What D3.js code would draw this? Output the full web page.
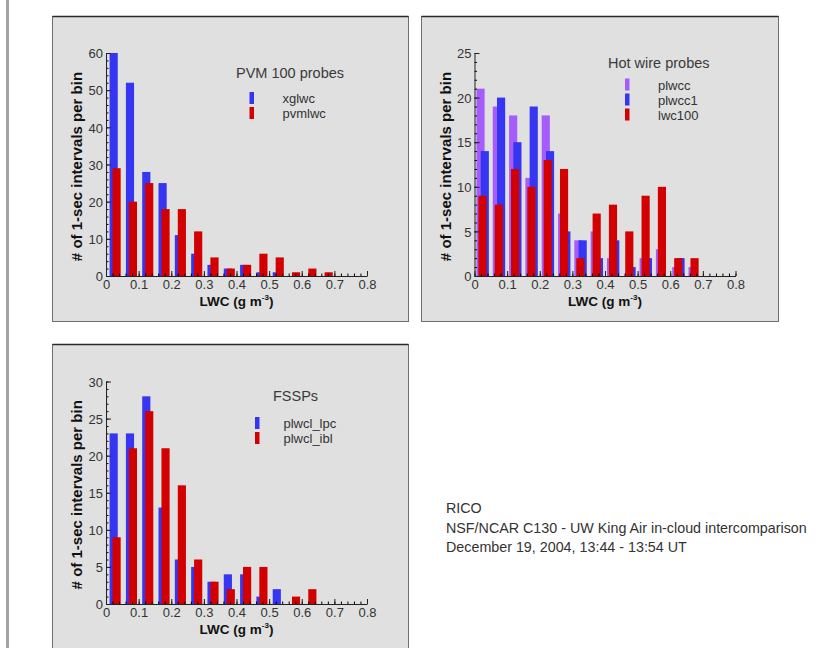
<!DOCTYPE html>
<html>
<head>
<meta charset="utf-8">
<script src="https://cdn.jsdelivr.net/npm/d3@7"></script>
<style>
  body { margin: 0; background: #fff; }
  svg { display: block; font-family: "Liberation Sans", Arial, sans-serif; }
</style>
</head>
<body>
<div id="chart"></div>
<script>
/* LWC histograms, RICO intercomparison */

// bin starts (g m-3), bin width 0.05
const binStart = [0, 0.05, 0.1, 0.15, 0.2, 0.25, 0.3, 0.35, 0.4, 0.45, 0.5, 0.55, 0.6, 0.65];

// PVM 100 probes
const xglwc  = [60, 52, 28, 25, 11, 6, 3, 2, 3, 1, 1, 0, 0, 0];
const pvmlwc = [29, 20, 25, 18, 18, 12, 5, 2, 3, 6, 5, 1, 2, 1];

// Hot wire probes
const plwcc  = [21, 19, 18, 11, 18, 7, 4, 5, 2, 0, 2, 3, 1, 1];
const plwcc1 = [14, 20, 15, 19, 14, 5, 4, 2, 4, 1, 2, 0, 2, 0];
const lwc100 = [9, 8, 12, 10, 13, 12, 2, 7, 8, 5, 9, 10, 2, 2];

// FSSPs
const plwcl_lpc = [23, 23, 28, 13, 6, 5, 3, 4, 4, 1, 2, 0, 0, 0];
const plwcl_ibl = [9, 21, 26, 21, 16, 6, 3, 2, 5, 5, 0, 1, 2, 0];

const noteLines = [
    "RICO",
    "NSF/NCAR C130 - UW King Air in-cloud intercomparison",
    "December 19, 2004, 13:44 - 13:54 UT"
];

const width = 821, height = 648;
const blue = "#3535f2", red = "#d20000", purple = "#a65cfa";
const barW = 0.025;

const panels = [
    {
        box: [52.5, 16.5, 356, 305],
        plot: { left: 106, right: 367, top: 53, bottom: 276 },
        yMax: 60, yStep: 10, yMinor: 2,
        title: "PVM 100 probes", titleX: 236, titleY: 78,
        legendX: 249.5, legendY: 92, labelDx: 33,
        series: [
            { name: "xglwc", values: xglwc, color: blue, offset: 0.011 },
            { name: "pvmlwc", values: pvmlwc, color: red, offset: 0.02 }
        ]
    },
    {
        box: [421.5, 16.5, 357, 305],
        plot: { left: 474.5, right: 735.5, top: 53, bottom: 276 },
        yMax: 25, yStep: 5, yMinor: 1,
        title: "Hot wire probes", titleX: 608, titleY: 68,
        legendX: 625, legendY: 78.5, labelDx: 33,
        series: [
            { name: "plwcc", values: plwcc, color: purple, offset: 0.006 },
            { name: "plwcc1", values: plwcc1, color: blue, offset: 0.019 },
            { name: "lwc100", values: lwc100, color: red, offset: 0.012 }
        ]
    },
    {
        box: [52.5, 344.5, 356, 320],
        plot: { left: 106, right: 367, top: 381.5, bottom: 604 },
        yMax: 30, yStep: 5, yMinor: 1,
        title: "FSSPs", titleX: 273, titleY: 401,
        legendX: 255, legendY: 417, labelDx: 28.5,
        series: [
            { name: "plwcl_lpc", values: plwcl_lpc, color: blue, offset: 0.011 },
            { name: "plwcl_ibl", values: plwcl_ibl, color: red, offset: 0.02 }
        ]
    }
];

let svg = d3.select("#chart")
    .append("svg")
    .attr("width", width)
    .attr("height", height)
    .attr("viewBox", [0, 0, width, height]);

/* page rule on the left */
svg.append("rect")
    .attr("x", 6).attr("y", 0)
    .attr("width", 3).attr("height", height)
    .attr("fill", "#a3a3a3");

for (let p of panels) {
    let g = svg.append("g");
    let [bx, by, bw, bh] = p.box;

    // panel frame
    g.append("rect")
        .attr("x", bx).attr("y", by)
        .attr("width", bw).attr("height", bh)
        .attr("fill", "#e0e0e0")
        .attr("stroke", "#6e6e6e");
    g.append("line")
        .attr("x1", bx).attr("x2", bx + bw)
        .attr("y1", by).attr("y2", by)
        .attr("stroke", "#2a2a2a").attr("stroke-width", 1.5);

    let x = d3.scaleLinear()
        .domain([0, 0.8])
        .range([p.plot.left, p.plot.right]);

    let y = d3.scaleLinear()
        .domain([0, p.yMax])
        .range([p.plot.bottom, p.plot.top]);

    // bars, drawn in series order so later ones sit on top
    for (let s of p.series) {
        g.append("g")
            .selectAll("rect")
            .data(binStart.map((b, i) => ({ b: b, v: s.values[i] })).filter(d => d.v > 0))
            .join("rect")
            .attr("fill", s.color)
            .attr("x", d => x(d.b + s.offset))
            .attr("width", d => x(d.b + s.offset + barW) - x(d.b + s.offset))
            .attr("y", d => y(d.v))
            .attr("height", d => y(0) - y(d.v));
    }

    // minor ticks
    g.append("g")
        .attr("transform", `translate(0,${p.plot.bottom})`)
        .call(d3.axisBottom(x).tickValues(d3.range(0, 41).map(i => i * 0.02)).tickSize(-2.5).tickFormat(""))
        .call(a => a.select(".domain").remove());
    g.append("g")
        .attr("transform", `translate(${p.plot.left},0)`)
        .call(d3.axisLeft(y).tickValues(d3.range(0, p.yMax + 0.001, p.yMinor)).tickSize(-2.5).tickFormat(""))
        .call(a => a.select(".domain").remove());

    // major axes
    let xAxis = g.append("g")
        .attr("transform", `translate(0,${p.plot.bottom})`)
        .call(d3.axisBottom(x).ticks(8).tickFormat(d3.format("~g")).tickSize(-5).tickSizeOuter(0).tickPadding(4));
    let yAxis = g.append("g")
        .attr("transform", `translate(${p.plot.left},0)`)
        .call(d3.axisLeft(y).tickValues(d3.range(0, p.yMax + 0.001, p.yStep)).tickSize(-5).tickSizeOuter(0).tickPadding(3));

    for (let a of [xAxis, yAxis]) {
        a.attr("font-size", 13).attr("font-family", "'Liberation Sans', Arial, sans-serif");
        a.selectAll("path, line").attr("stroke", "#222");
        a.selectAll("text").attr("fill", "#333");
    }
    yAxis.selectAll("text").attr("dy", "0.36em");

    // axis titles
    let xt = g.append("text")
        .attr("x", (p.plot.left + p.plot.right) / 2)
        .attr("y", p.plot.bottom + 30)
        .attr("text-anchor", "middle")
        .attr("font-size", 13.5)
        .attr("font-weight", "bold")
        .attr("fill", "#111");
    xt.append("tspan").text("LWC (g m");
    xt.append("tspan").attr("font-size", 8).attr("dy", -6).text("-3");
    xt.append("tspan").attr("dy", 6).text(")");

    g.append("text")
        .attr("transform", `translate(${p.plot.left - 24},${(p.plot.top + p.plot.bottom) / 2 + 2}) rotate(-90)`)
        .attr("text-anchor", "middle")
        .attr("font-size", 15)
        .attr("font-weight", "bold")
        .attr("fill", "#111")
        .text("# of 1-sec intervals per bin");

    // title and legend
    g.append("text")
        .attr("x", p.titleX).attr("y", p.titleY)
        .attr("font-size", 14.5)
        .attr("fill", "#3a3a3a")
        .text(p.title);

    let leg = g.append("g")
        .selectAll("g")
        .data(p.series)
        .join("g")
        .attr("transform", (d, i) => `translate(${p.legendX},${p.legendY + i * 15})`);
    leg.append("rect")
        .attr("width", 4.5).attr("height", 12)
        .attr("fill", d => d.color);
    leg.append("text")
        .attr("x", p.labelDx).attr("y", 11)
        .attr("font-size", 13)
        .attr("fill", "#333")
        .text(d => d.name);
}

/* caption block */
svg.append("g")
    .selectAll("text")
    .data(noteLines)
    .join("text")
    .attr("x", 446)
    .attr("y", (d, i) => 513 + i * 19.5)
    .attr("font-size", 14.3)
    .attr("fill", "#333")
    .text(d => d);
</script>
</body>
</html>
